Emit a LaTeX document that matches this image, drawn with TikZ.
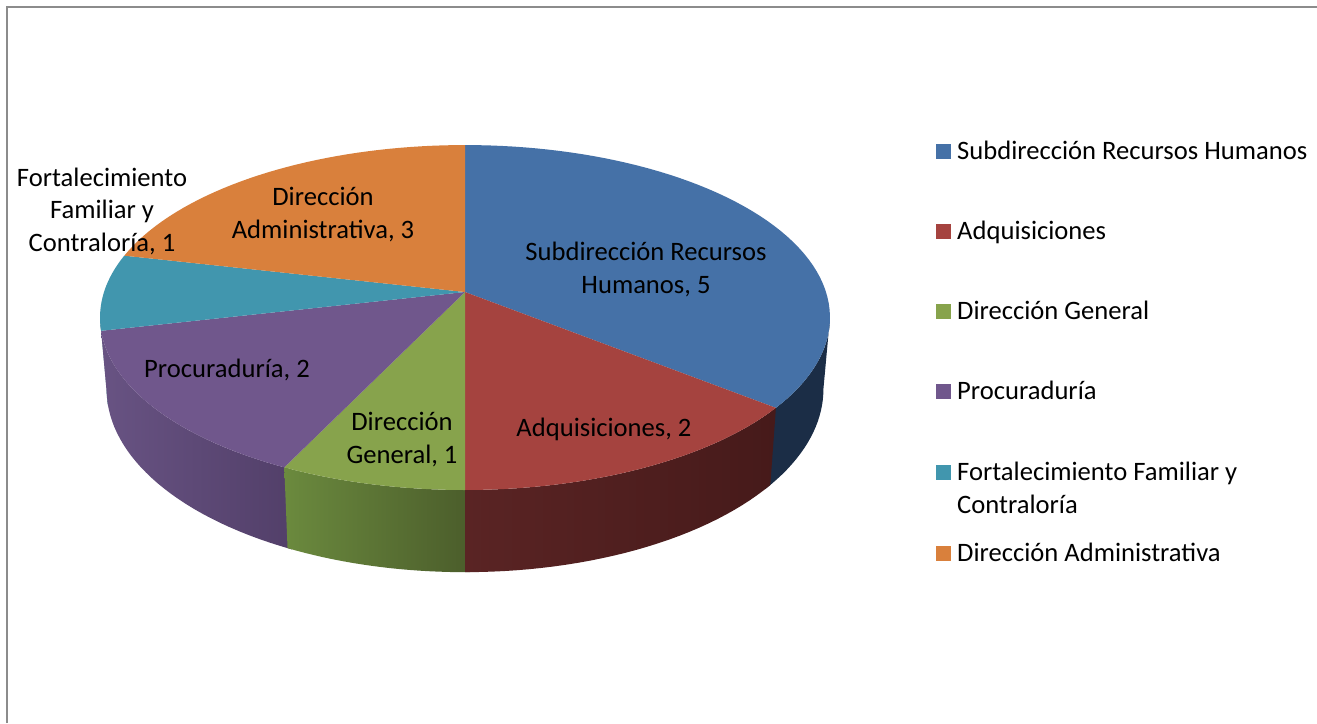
\documentclass[tikz,border=0pt]{standalone}
\usepackage{fontspec}
\setmainfont{Carlito}
\definecolor{blueTop}{HTML}{4571A7}
\definecolor{redTop}{HTML}{A5433F}
\definecolor{greenTop}{HTML}{87A34C}
\definecolor{purpleTop}{HTML}{70578C}
\definecolor{tealTop}{HTML}{4196AE}
\definecolor{orangeTop}{HTML}{D9803C}
\definecolor{blueSide}{HTML}{1B2D46}
\definecolor{redSideL}{HTML}{5A2424}
\definecolor{redSideR}{HTML}{461A1A}
\definecolor{greenSideL}{HTML}{6B8A3E}
\definecolor{greenSideR}{HTML}{4B5D2B}
\definecolor{purpleSideL}{HTML}{685383}
\definecolor{purpleSideR}{HTML}{523F69}
\definecolor{tealSide}{HTML}{2C6878}
\definecolor{frameGray}{HTML}{8C8C8C}
\begin{document}
\begin{tikzpicture}[x=1pt,y=-1pt,
  declare function={
    kk(\t)=1+0.148*cos(\t);
    px(\t)=465+361*sin(\t)/kk(\t);
    py(\t)=292-168.7*cos(\t)/kk(\t);
    bx(\t)=465+354.5*sin(\t)/kk(\t);
    by(\t)=292+(70-168.7*cos(\t))/kk(\t);
  },
  lab/.style={font=\fontsize{26.6}{32.5}\selectfont,align=center,inner sep=0pt,anchor=base},
  legtxt/.style={font=\fontsize{26.6}{32.5}\selectfont,align=left,inner sep=0pt,anchor=base west},
  legsq/.style={minimum size=15pt,inner sep=0pt,anchor=south west}]
\useasboundingbox (0,0) rectangle (1317,723);
\fill[white] (0,0) rectangle (1317,723);
% frame
\draw[frameGray,line width=1.5pt] (7,723) -- (7,7) -- (1317,7);
% sides (each drawn slightly past its boundary, covered by the next one)
\fill[blueSide] plot[domain=98.5:130,samples=20,variable=\t] ({px(\t)},{py(\t)})
  -- plot[domain=130:98.5,samples=20,variable=\t] ({bx(\t)},{by(\t)}) -- cycle;
\fill[tealSide] plot[domain=256:261.5,samples=6,variable=\t] ({px(\t)},{py(\t)})
  -- plot[domain=261.5:256,samples=6,variable=\t] ({bx(\t)},{by(\t)}) -- cycle;
\shade[left color=purpleSideL,right color=purpleSideR] plot[domain=205:257.143,samples=30,variable=\t] ({px(\t)},{py(\t)})
  -- plot[domain=257.143:205,samples=30,variable=\t] ({bx(\t)},{by(\t)}) -- cycle;
\shade[left color=greenSideL,right color=greenSideR] plot[domain=179.3:205.714,samples=20,variable=\t] ({px(\t)},{py(\t)})
  -- plot[domain=205.714:179.3,samples=20,variable=\t] ({bx(\t)},{by(\t)}) -- cycle;
\shade[left color=redSideL,right color=redSideR] plot[domain=128.571:180,samples=30,variable=\t] ({px(\t)},{py(\t)})
  -- plot[domain=180:128.571,samples=30,variable=\t] ({bx(\t)},{by(\t)}) -- cycle;
% top faces
\coordinate (c) at (465,292);
\fill[blueTop] (c) -- plot[domain=0:128.571,samples=60,variable=\t] ({px(\t)},{py(\t)}) -- cycle;
\fill[redTop] (c) -- plot[domain=128.571:180,samples=30,variable=\t] ({px(\t)},{py(\t)}) -- cycle;
\fill[greenTop] (c) -- plot[domain=180:205.714,samples=20,variable=\t] ({px(\t)},{py(\t)}) -- cycle;
\fill[purpleTop] (c) -- plot[domain=205.714:257.143,samples=30,variable=\t] ({px(\t)},{py(\t)}) -- cycle;
\fill[tealTop] (c) -- plot[domain=257.143:282.857,samples=20,variable=\t] ({px(\t)},{py(\t)}) -- cycle;
\fill[orangeTop] (c) -- plot[domain=282.857:360,samples=40,variable=\t] ({px(\t)},{py(\t)}) -- cycle;
% data labels (base = baseline of last line)
\node[lab] (lSub) at (646,293) {Subdirección Recursos\\Humanos, 5};
\node[lab] (lAdq) at (604,436) {Adquisiciones, 2};
\node[lab] (lDG) at (402,463) {Dirección\\General, 1};
\node[lab] (lProc) at (227,377) {Procuraduría, 2};
\node[lab] (lFort) at (102,251) {Fortalecimiento\\Familiar y\\Contraloría, 1};
\node[lab] (lDA) at (323,238) {Dirección\\Administrativa, 3};
% legend
\node[legsq,fill=blueTop] (s1) at (936,159) {};
\node[legtxt] (t1) at (957,159) {Subdirección Recursos Humanos};
\node[legsq,fill=redTop] (s2) at (936,239) {};
\node[legtxt] (t2) at (957,239) {Adquisiciones};
\node[legsq,fill=greenTop] (s3) at (936,319) {};
\node[legtxt] (t3) at (957,319) {Dirección General};
\node[legsq,fill=purpleTop] (s4) at (936,399) {};
\node[legtxt] (t4) at (957,399) {Procuraduría};
\node[legsq,fill=tealTop] (s5) at (936,480) {};
\node[legtxt] (t5) at (957,513) {Fortalecimiento Familiar y\\Contraloría};
\node[legsq,fill=orangeTop] (s6) at (936,561) {};
\node[legtxt] (t6) at (957,561) {Dirección Administrativa};
\end{tikzpicture}
\end{document}
